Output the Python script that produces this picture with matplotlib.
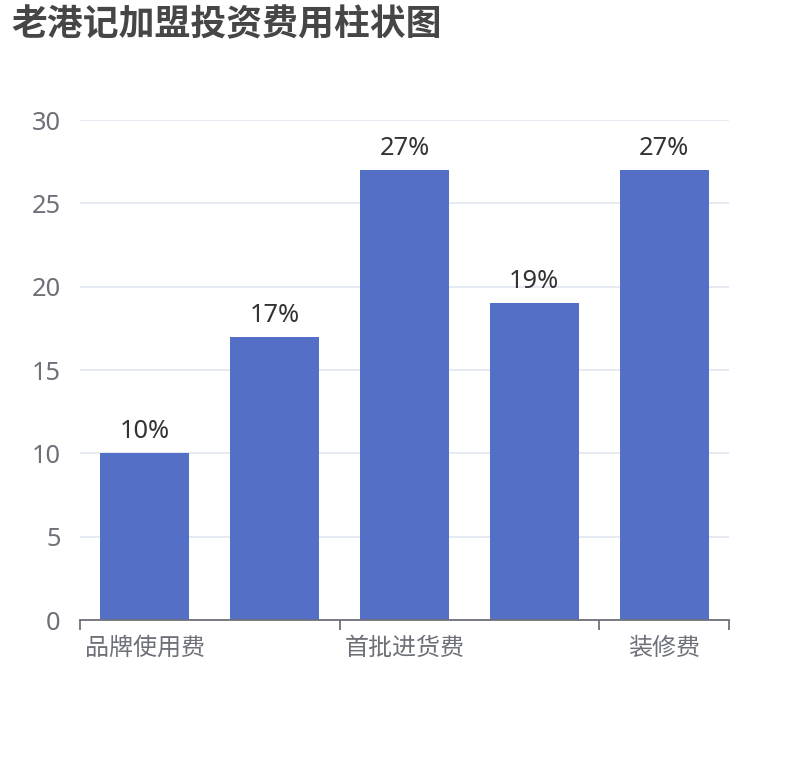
import matplotlib
matplotlib.use("Agg")
import matplotlib.pyplot as plt
from matplotlib.ticker import FixedLocator, NullFormatter

plt.rcParams['font.family'] = ['Noto Sans', 'Noto Sans CJK SC', 'DejaVu Sans']

title = "老港记加盟投资费用柱状图"
categories = ["品牌使用费", "加盟费", "首批进货费", "设备费", "装修费"]
values = [10, 17, 27, 19, 27]
value_labels = ["10%", "17%", "27%", "19%", "27%"]
y_ticks = [0, 5, 10, 15, 20, 25, 30]
label_every = 2

bar_color = "#5470c6"
axis_color = "#6E7079"
grid_color = "#E0E6F1"

fig = plt.figure(figsize=(8.1, 7.6), dpi=100)
ax = fig.add_axes([80/810, 140/760, (729-80)/810, 500/760])

x = list(range(len(categories)))
bars = ax.bar(x, values, width=0.685, color=bar_color, zorder=3)

for xi, v, lab in zip(x, values, value_labels):
    ax.annotate(lab, (xi, v), xytext=(0, 9), textcoords="offset pixels",
                ha="center", va="bottom", fontsize=18.3, color="#333333")

ax.set_xlim(-0.5, len(categories) - 0.5)
ax.set_ylim(0, 30)
ax.set_yticks(y_ticks)
ax.set_yticklabels([str(t) for t in y_ticks])
ax.yaxis.grid(True, color=grid_color, linewidth=1.2, zorder=0)
ax.tick_params(axis="y", length=0, pad=14, labelsize=18.3, labelcolor=axis_color)

# x ticks at category boundaries (every label_every) plus the end
tick_pos = [i - 0.5 for i in range(0, len(categories), label_every)] + [len(categories) - 0.5]
ax.xaxis.set_major_locator(FixedLocator(tick_pos))
ax.xaxis.set_major_formatter(NullFormatter())
ax.tick_params(axis="x", which="major", length=7, width=1.3, color=axis_color, direction="out")
lab_pos = [i for i in range(0, len(categories), label_every)]
ax.xaxis.set_minor_locator(FixedLocator(lab_pos))
ax.set_xticklabels([categories[i] for i in lab_pos], minor=True)
ax.tick_params(axis="x", which="minor", length=0, pad=12, labelsize=17.3, labelcolor=axis_color)

for s in ["top", "right", "left"]:
    ax.spines[s].set_visible(False)
ax.spines["bottom"].set_color(axis_color)
ax.spines["bottom"].set_linewidth(1.3)
ax.spines["bottom"].set_zorder(4)

fig.text(11/810, 1 - 26/760, title, ha="left", va="center", fontsize=25.8,
         fontweight="bold", color="#464646")

fig.savefig("out.png", dpi=100)
